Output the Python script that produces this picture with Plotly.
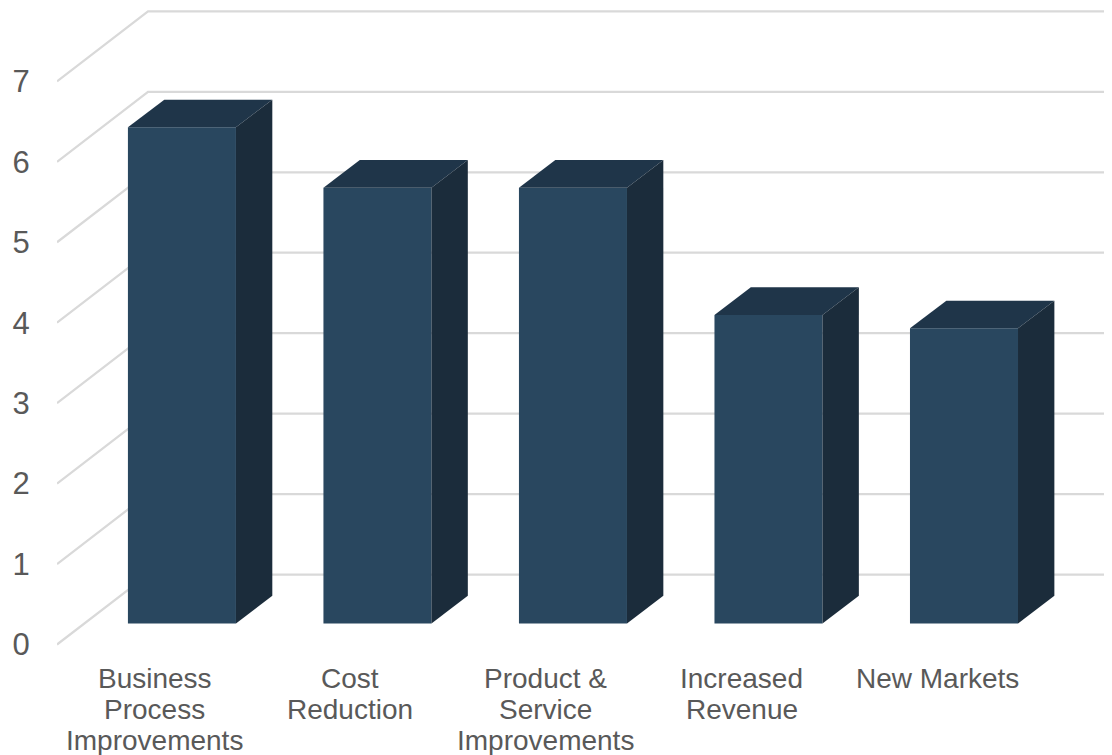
import plotly.graph_objects as go

categories = [["Business", "Process", "Improvements"], ["Cost", "Reduction"],
              ["Product &", "Service", "Improvements"], ["Increased", "Revenue"], ["New Markets"]]
values = [6.168, 5.417, 5.417, 3.835, 3.669]
y_ticks = [0, 1, 2, 3, 4, 5, 6, 7]

# projection of the oblique 3-D look, in axis units
X_RANGE = [-0.501, 4.895]
Y_RANGE = [-0.1305, 7.912]
WALL_DX, WALL_DY = 0.4655, 0.87
BAR_OFFSET, BAR_WIDTH = 0.138, 0.5525
BAR_BASE = 0.261
DEPTH_DX, DEPTH_DY = 0.186, 0.344

GRID = "#D9D9D9"
FRONT, TOP, SIDE = "#29475F", "#1F3549", "#1B2C3B"
TEXT = "#595959"

fig = go.Figure()

# back wall + side wall gridlines (under the bars)
for v in y_ticks:
    fig.add_trace(go.Scatter(
        x=[X_RANGE[0], X_RANGE[0] + WALL_DX, X_RANGE[1]],
        y=[v, v + WALL_DY, v + WALL_DY],
        mode="lines", line=dict(color=GRID, width=2.25),
        hoverinfo="skip", showlegend=False, xaxis="x", yaxis="y"))

# bars: front face
xpos = [i + BAR_OFFSET for i in range(len(values))]
fig.add_trace(go.Bar(x=xpos, y=values, base=BAR_BASE, width=BAR_WIDTH,
                     marker=dict(color=FRONT, line=dict(width=0)),
                     showlegend=False, xaxis="x2", yaxis="y2"))

# bars: top and side faces
for xc, val in zip(xpos, values):
    l, r = xc - BAR_WIDTH / 2, xc + BAR_WIDTH / 2
    t = BAR_BASE + val
    fig.add_trace(go.Scatter(
        x=[l, r, r + DEPTH_DX, l + DEPTH_DX, l],
        y=[t, t, t + DEPTH_DY, t + DEPTH_DY, t],
        fill="toself", fillcolor=TOP, mode="lines", line=dict(width=0, color=TOP),
        hoverinfo="skip", showlegend=False, xaxis="x2", yaxis="y2"))
    fig.add_trace(go.Scatter(
        x=[r, r + DEPTH_DX, r + DEPTH_DX, r, r],
        y=[BAR_BASE, BAR_BASE + DEPTH_DY, t + DEPTH_DY, t, BAR_BASE],
        fill="toself", fillcolor=SIDE, mode="lines", line=dict(width=0, color=SIDE),
        hoverinfo="skip", showlegend=False, xaxis="x2", yaxis="y2"))

font = dict(family="Liberation Sans, Arial, sans-serif", size=28, color=TEXT)
tick_font = dict(family="Liberation Sans, Arial, sans-serif", size=31, color=TEXT)

# category labels: one annotation per line for the tight 31 px line spacing
annotations = []
for i, lines in enumerate(categories):
    for j, line in enumerate(lines):
        annotations.append(dict(text=line, x=i, xref="x", y=0, yref="paper",
                                yanchor="middle", xanchor="center", yshift=-23 - 31 * j,
                                showarrow=False, font=font))

fig.update_layout(
    width=1104, height=747, autosize=False,
    margin=dict(l=49, r=0, t=0, b=100, pad=0),
    paper_bgcolor="white", plot_bgcolor="white",
    showlegend=False,
    annotations=annotations,
    xaxis=dict(range=X_RANGE, tickmode="array", tickvals=list(range(len(categories))),
               showticklabels=False, showgrid=False,
               zeroline=False, showline=False, ticks="", automargin=False),
    yaxis=dict(range=Y_RANGE, tickmode="array", tickvals=y_ticks, tickfont=tick_font,
               showgrid=False, zeroline=False, showline=False, ticks="outside",
               ticklen=20, tickcolor="rgba(0,0,0,0)", automargin=False),
    xaxis2=dict(range=X_RANGE, overlaying="x", visible=False),
    yaxis2=dict(range=Y_RANGE, overlaying="y", visible=False),
)
fig.write_html("out.html")
